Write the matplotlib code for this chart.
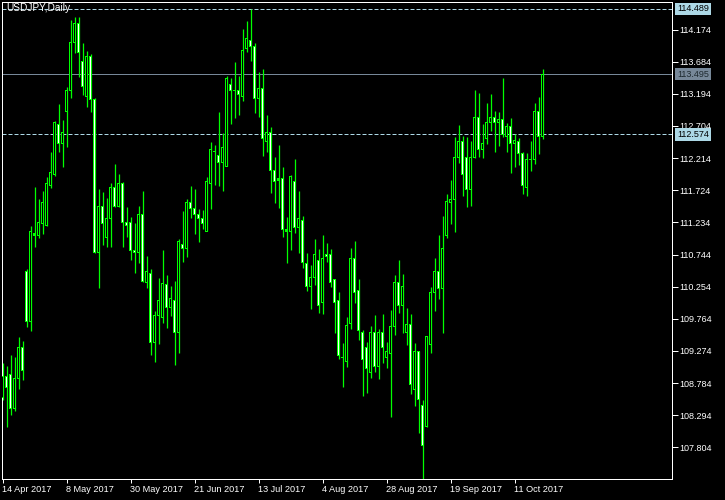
import numpy as np
import matplotlib
matplotlib.use("Agg")
import matplotlib.pyplot as plt

# USDJPY daily candles, 14 Apr 2017 .. 20 Oct 2017
opens = [108.56, 108.89, 108.91, 108.40, 108.85, 109.32, 110.49, 109.73, 111.06, 111.04,
         111.22, 111.19, 111.79, 111.96, 112.73, 112.44, 112.92, 113.24, 113.97, 114.26,
         113.69, 113.15, 113.77, 113.11, 110.78, 111.47, 111.01, 111.30, 111.76, 111.48,
         111.83, 111.24, 111.24, 110.81, 110.77, 111.35, 110.32, 110.45, 109.41, 109.82,
         109.79, 110.28, 109.93, 110.04, 109.55, 110.89, 110.84, 111.53, 111.44, 111.36,
         111.30, 111.10, 111.82, 112.32, 112.25, 112.15, 112.09, 113.34, 113.24, 113.24,
         113.16, 113.89, 114.01, 113.92, 113.13, 113.27, 112.46, 112.60, 112.03, 111.88,
         111.90, 111.12, 111.09, 111.86, 111.15, 111.27, 110.61, 110.25, 110.39, 110.66,
         110.02, 110.75, 110.74, 110.36, 110.04, 109.18, 109.12, 109.70, 110.69, 110.19,
         109.56, 109.33, 108.94, 109.55, 109.03, 109.56, 109.18, 109.23, 109.64, 110.32,
         109.96, 109.56, 109.67, 108.69, 109.27, 108.45, 108.13, 109.38, 110.17, 110.48,
         110.23, 111.04, 111.54, 111.59, 112.22, 112.46, 112.22, 111.73, 112.22, 112.83,
         112.34, 112.51, 112.75, 112.84, 112.75, 112.81, 112.55, 112.69, 112.44, 112.47,
         112.28, 111.77, 112.19, 112.20, 112.93, 112.54]
highs = [109.09, 109.05, 109.21, 109.18, 109.49, 109.43, 110.52, 111.18, 111.77, 111.59,
         111.71, 111.93, 112.31, 112.78, 113.04, 112.80, 113.30, 114.32, 114.36, 114.36,
         113.97, 113.85, 113.80, 113.13, 111.74, 111.70, 111.61, 111.83, 112.12, 111.97,
         111.85, 111.47, 111.32, 111.22, 111.48, 111.71, 110.72, 110.52, 109.88, 110.39,
         110.81, 110.43, 110.26, 110.34, 110.98, 111.41, 111.59, 111.79, 111.74, 111.44,
         111.42, 111.93, 112.46, 112.41, 112.92, 112.60, 113.47, 113.43, 113.68, 113.47,
         114.18, 114.30, 114.489, 113.97, 113.53, 113.57, 112.87, 112.69, 112.23, 112.41,
         112.08, 111.32, 111.96, 112.20, 111.71, 111.33, 110.77, 110.58, 110.98, 110.83,
         111.04, 110.92, 110.83, 110.36, 110.17, 109.40, 109.79, 110.84, 110.95, 110.37,
         109.59, 109.41, 109.66, 109.82, 109.61, 109.84, 109.41, 109.90, 110.43, 110.66,
         110.45, 109.93, 109.84, 109.40, 109.27, 108.53, 109.50, 110.25, 110.69, 111.04,
         111.33, 111.67, 111.88, 112.54, 112.72, 112.55, 112.54, 112.47, 113.25, 113.21,
         112.73, 113.05, 113.19, 112.93, 112.92, 113.43, 112.75, 112.83, 112.58, 112.52,
         112.31, 112.29, 112.47, 113.05, 113.15, 113.57]
lows = [108.53, 108.12, 108.30, 108.36, 108.69, 108.83, 109.64, 109.58, 110.86, 111.00,
        111.06, 111.18, 111.76, 111.94, 112.31, 112.08, 112.38, 113.13, 113.82, 113.45,
        113.18, 112.99, 112.92, 110.77, 110.23, 110.89, 110.86, 110.86, 111.47, 111.47,
        110.86, 111.01, 110.66, 110.46, 110.61, 110.32, 110.23, 109.21, 109.11, 109.38,
        109.70, 109.62, 109.81, 109.06, 109.24, 110.63, 110.71, 111.30, 111.06, 110.94,
        111.13, 111.10, 111.44, 111.80, 111.79, 111.71, 112.09, 112.73, 112.83, 112.87,
        113.08, 113.83, 113.69, 112.90, 112.84, 112.25, 112.31, 111.68, 111.53, 111.45,
        111.01, 110.61, 110.81, 111.07, 110.77, 110.54, 110.19, 109.91, 110.28, 109.85,
        109.84, 110.63, 110.25, 109.55, 109.15, 108.72, 109.03, 109.61, 110.01, 109.44,
        108.59, 108.63, 108.86, 108.95, 108.85, 109.09, 109.01, 108.27, 109.52, 109.85,
        109.55, 109.37, 108.62, 108.44, 108.02, 107.32, 108.12, 109.24, 109.88, 110.07,
        109.55, 111.00, 111.21, 111.09, 112.14, 111.64, 111.47, 111.48, 112.22, 112.23,
        112.22, 112.43, 112.63, 112.31, 112.40, 112.54, 112.31, 111.99, 112.08, 112.11,
        111.67, 111.64, 112.02, 112.12, 112.28, 112.51]
closes = [108.89, 108.72, 108.40, 108.86, 109.32, 108.97, 109.73, 111.09, 111.04, 111.24,
          111.53, 111.83, 111.99, 112.75, 112.44, 112.60, 113.25, 113.97, 114.26, 113.83,
          113.31, 113.77, 113.11, 110.78, 111.47, 111.22, 111.30, 111.77, 111.48, 111.83,
          111.24, 111.19, 110.81, 110.77, 111.35, 110.34, 110.48, 109.41, 109.82, 110.04,
          110.31, 109.93, 110.07, 109.56, 110.95, 110.83, 111.53, 111.44, 111.36, 111.30,
          111.22, 111.85, 112.35, 112.32, 112.15, 112.37, 113.43, 113.25, 113.24, 113.18,
          113.85, 114.03, 113.91, 113.13, 113.27, 112.52, 112.61, 112.02, 111.86, 111.91,
          111.12, 111.09, 111.94, 111.15, 111.30, 110.63, 110.25, 110.39, 110.74, 109.97,
          110.68, 110.71, 110.32, 110.02, 109.21, 109.17, 109.66, 110.69, 110.17, 109.58,
          109.15, 109.00, 109.56, 109.03, 109.56, 109.33, 109.26, 109.64, 110.32, 109.96,
          110.25, 109.67, 108.77, 109.26, 108.53, 107.83, 109.49, 110.16, 110.48, 110.23,
          110.84, 111.56, 111.59, 112.22, 112.46, 111.96, 111.73, 112.22, 112.83, 112.34,
          112.44, 112.75, 112.84, 112.75, 112.81, 112.58, 112.69, 112.44, 112.49, 112.28,
          111.79, 112.19, 112.20, 112.93, 112.54, 113.495]

date_labels = ["14 Apr 2017", "8 May 2017", "30 May 2017", "21 Jun 2017", "13 Jul 2017",
               "4 Aug 2017", "28 Aug 2017", "19 Sep 2017", "11 Oct 2017"]
date_bars = [0, 16, 32, 48, 64, 80, 96, 112, 128]

price_ticks = [114.174, 113.684, 113.194, 112.704, 112.214, 111.724, 111.234,
               110.744, 110.254, 109.764, 109.274, 108.784, 108.294, 107.804]
high_line = 114.489
bid_line = 113.495
level_line = 112.574

FONT = "Liberation Sans"
LIME = "#00ff00"
px = 0.72  # one pixel in points at 100 dpi
ymin, ymax = 107.322, 114.594
ypx = (ymax - ymin) / 477  # price per pixel

o = np.array(opens)
h = np.array(highs)
l = np.array(lows)
c = np.array(closes)
x = np.arange(len(o))

fig = plt.figure(figsize=(7.25, 5.0), dpi=100, facecolor="black")
ax = fig.add_axes([2 / 725, 21 / 500, 670 / 725, 477 / 500], facecolor="black")

# wicks, then lime body, then thin inner fill (white = down bar, black = up bar)
ax.vlines(x, l, h, color=LIME, lw=0.9, zorder=2)
bottoms = np.minimum(o, c)
heights = np.abs(c - o)
ax.bar(x, heights + ypx, width=0.8, bottom=bottoms - ypx / 2, color=LIME,
       linewidth=0, zorder=3)
inner = heights > 2 * ypx
fills = np.where(c < o, "white", "black")
ax.bar(x[inner], heights[inner] - ypx, width=0.25, bottom=bottoms[inner] + ypx / 2,
       color=fills[inner], linewidth=0, zorder=4)

# horizontal price lines
ax.axhline(high_line, color="#add8e6", lw=px, ls=(0, (4, 2)), zorder=1)
ax.axhline(level_line, color="#add8e6", lw=px, ls=(0, (4, 2)), zorder=1)
ax.axhline(bid_line, color="#778899", lw=px, zorder=1)

ax.set_xlim(-0.125, 167.375)
ax.set_ylim(ymin, ymax)

for s in ax.spines.values():
    s.set_color("white")
    s.set_linewidth(px)

ax.yaxis.tick_right()
ax.set_yticks(price_ticks)
ax.set_yticklabels([f"{t:.3f}" for t in price_ticks], fontsize=6.5, color="white",
                   fontfamily=FONT)
ax.tick_params(axis="y", direction="out", length=4, width=px, color="white", pad=1)

ax.set_xticks(date_bars)
ax.set_xticklabels(date_labels, fontsize=6.6, color="white", fontfamily=FONT, ha="left")
ax.tick_params(axis="x", direction="out", length=3, width=px, color="white", pad=1.5)

# price tags on the right scale
tags = [(high_line, "#add8e6", "black"), (bid_line, "#778899", "#1e2a30"),
        (level_line, "#add8e6", "black")]
for val, bg, fg in tags:
    ax.annotate(f"{val:.3f}", xy=(1, val), xycoords=("axes fraction", "data"),
                xytext=(5, 0), textcoords="offset pixels", ha="left", va="center",
                fontsize=6.5, color=fg, fontfamily=FONT, annotation_clip=False,
                bbox=dict(boxstyle="square,pad=0.2", fc=bg, ec="none"))

fig.text(6 / 725, 1 - 3 / 500, "USDJPY,Daily", color="white", fontsize=7.3,
         fontfamily=FONT, ha="left", va="top")

fig.savefig("out.png", dpi=100, facecolor="black")
